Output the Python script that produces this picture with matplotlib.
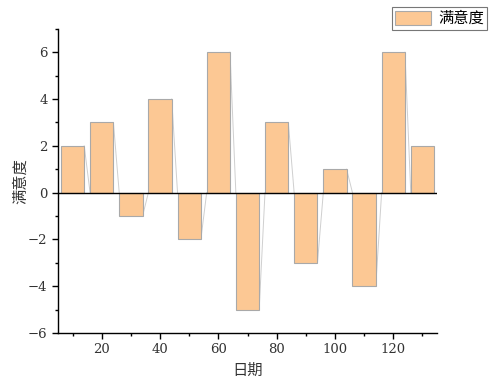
import matplotlib
matplotlib.use('Agg')
import matplotlib.pyplot as plt
from matplotlib.ticker import MultipleLocator

# data
days = [10, 20, 30, 40, 50, 60, 70, 80, 90, 100, 110, 120, 130]
satisfaction = [2, 3, -1, 4, -2, 6, -5, 3, -3, 1, -4, 6, 2]
bar_width = 8

plt.rcParams['font.family'] = ['DejaVu Serif', 'Noto Sans CJK SC']
cjk = ['Noto Sans CJK SC', 'DejaVu Sans']

fig = plt.figure(figsize=(5.0, 3.85), dpi=100)
ax = fig.add_axes([0.116, 0.135, 0.758, 0.79])

# bars
bars = ax.bar(days, satisfaction, width=bar_width, color='#fcc894',
              edgecolor='#a9a9a9', linewidth=0.8, label='满意度', zorder=2)

# thin connecting lines from bar corner to next bar base
for i in range(len(days) - 1):
    x0 = days[i] + bar_width / 2
    x1 = days[i + 1] - bar_width / 2
    ax.plot([x0, x1], [satisfaction[i], 0], color='#cfcfcf', linewidth=0.7, zorder=1)

ax.axhline(0, color='black', linewidth=1.0, zorder=3)

ax.set_xlim(5, 135)
ax.set_ylim(-6, 7)

ax.xaxis.set_major_locator(MultipleLocator(20))
ax.xaxis.set_minor_locator(MultipleLocator(10))
ax.yaxis.set_major_locator(MultipleLocator(2))
ax.yaxis.set_minor_locator(MultipleLocator(1))
ax.tick_params(which='major', length=4, width=1, labelsize=9.5, colors='#333333')
ax.tick_params(which='minor', length=2.5, width=1)
ax.tick_params(axis='both', which='both', color='black')

for side in ['top', 'right']:
    ax.spines[side].set_visible(False)
for side in ['left', 'bottom']:
    ax.spines[side].set_linewidth(1.0)

ax.set_xlabel('日期', family=cjk, fontsize=11, color='#333333', labelpad=4)
ax.set_ylabel('满意度', family=cjk, fontsize=11, color='#333333')
ax.yaxis.set_label_coords(-0.075, 0.5)

leg = fig.legend(handles=[bars], labels=['满意度'], loc='upper right',
                 bbox_to_anchor=(487 / 500, 1 - 7 / 385), borderaxespad=0,
                 fancybox=False, framealpha=1, edgecolor='#777777',
                 prop={'family': cjk, 'size': 11}, handlelength=2.3,
                 handleheight=1.0, borderpad=0.2, handletextpad=0.5)
leg.get_frame().set_linewidth(0.8)

fig.savefig('out.png', dpi=100)
